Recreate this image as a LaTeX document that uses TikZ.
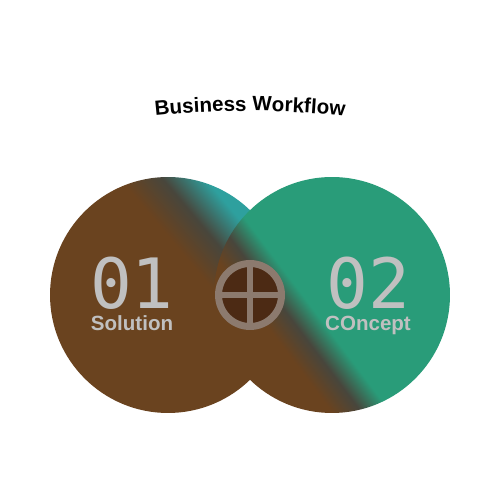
\documentclass[tikz,border=0pt]{standalone}
\usepackage{fontspec}
\setmainfont{Liberation Sans}
\setmonofont{DejaVu Sans Mono}
\usetikzlibrary{decorations.text}
\definecolor{ballbrown}{RGB}{106,67,31}
\definecolor{balldark}{RGB}{72,70,60}
\definecolor{ballteal}{RGB}{46,160,158}
\definecolor{ballgreen}{RGB}{41,156,121}
\definecolor{hubring}{RGB}{140,122,110}
\definecolor{hubfill}{RGB}{76,42,20}
\definecolor{labelgray}{RGB}{192,192,192}
\pgfdeclarehorizontalshading{solutionball}{100bp}{color(0bp)=(ballbrown); color(58bp)=(ballbrown); color(65bp)=(balldark); color(72bp)=(ballteal); color(100bp)=(ballteal)}
\pgfdeclarehorizontalshading{conceptball}{100bp}{color(0bp)=(ballbrown); color(35bp)=(ballbrown); color(40bp)=(balldark); color(45bp)=(ballgreen); color(100bp)=(ballgreen)}

\begin{document}
\begin{tikzpicture}[x=0.02cm, y=0.02cm,
    circlebox/.style={circle, inner sep=0pt, minimum size=4.72cm, shade},
    numtext/.style={text=labelgray, inner sep=0pt, font=\ttfamily\fontsize{39.5}{40}\selectfont},
    labeltext/.style={text=labelgray, inner sep=0pt, font=\bfseries\fontsize{11.7}{12}\selectfont, anchor=base}]

    \useasboundingbox (0,0) rectangle (500,500);
    \fill[white] (0,0) rectangle (500,500);

    \coordinate (arcstart) at (93.7,375.3);
    \path[decorate, decoration={text along path, text align=center,
        text={|\bfseries\fontsize{11.7}{12}\selectfont|Business Workflow}}]
        (arcstart) arc[start angle=100, end angle=80, radius=900];

    \node[circlebox, shading=solutionball, shading angle=40] (solution) at (168,205) {};
    \node[circlebox, shading=conceptball, shading angle=37] (concept) at (332,205) {};

    \node[circle, draw=hubring, fill=hubfill, line width=0.14cm, minimum size=1.26cm, inner sep=0pt] (hub) at (250,205) {};
    \draw[hubring, line width=0.12cm] (hub.north) -- (hub.south);
    \draw[hubring, line width=0.12cm] (hub.west) -- (hub.east);

    \node[numtext] (num1) at (132,217) {01};
    \node[labeltext] (solutionlabel) at (132,169) {Solution};
    \node[numtext] (num2) at (368,217) {02};
    \node[labeltext] (conceptlabel) at (368,169) {COncept};
\end{tikzpicture}
\end{document}
